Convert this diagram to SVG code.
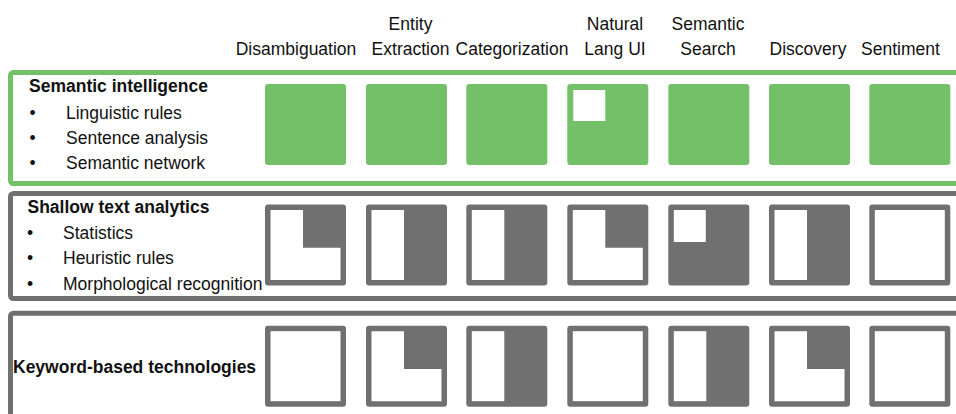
<svg xmlns="http://www.w3.org/2000/svg" xmlns:xlink="http://www.w3.org/1999/xlink" width="956" height="414" viewBox="0 0 956 414">
  <style>
    text { font-family: "Liberation Sans", Arial, sans-serif; font-size: 17.5px; fill: #111; }
    .hd { text-anchor: middle; }
    .b { font-weight: bold; }
    .frame-g { fill: none; stroke: #74C069; stroke-width: 5; }
    .frame-d { fill: none; stroke: #707070; stroke-width: 5; }
    .g { fill: #74C069; }
    .d { fill: #707070; }
    .w { fill: #fff; }
  </style>
  <defs>
    <!-- cell patterns, 81x81 each -->
    <g id="cell-green"><rect class="g" width="81" height="81" rx="3"/></g>
    <g id="cell-green-tl"><rect class="g" width="81" height="81" rx="3"/><rect class="w" x="6" y="6" width="32" height="31"/></g>
    <g id="cell-empty"><rect class="d" width="81" height="81" rx="3"/><rect class="w" x="5.5" y="5.5" width="70" height="70"/></g>
    <g id="cell-tr"><rect class="d" width="81" height="81" rx="3"/><path class="w" d="M5.5 5.5H38V43.3H75.5V75.5H5.5Z"/></g>
    <g id="cell-rh"><rect class="d" width="81" height="81" rx="3"/><rect class="w" x="5.5" y="5.5" width="32.5" height="70"/></g>
    <g id="cell-tl"><rect class="d" width="81" height="81" rx="3"/><rect class="w" x="5.5" y="5.5" width="32" height="32"/></g>
  </defs>

  <!-- column headings -->
  <g id="headings">
    <text class="hd" x="296" y="55">Disambiguation</text>
    <text class="hd" x="410.5" y="30">Entity</text>
    <text class="hd" x="410.5" y="55">Extraction</text>
    <text class="hd" x="512" y="55">Categorization</text>
    <text class="hd" x="615" y="30">Natural</text>
    <text class="hd" x="615" y="55">Lang UI</text>
    <text class="hd" x="708" y="30">Semantic</text>
    <text class="hd" x="708" y="55">Search</text>
    <text class="hd" x="808" y="55">Discovery</text>
    <text class="hd" x="900.5" y="55">Sentiment</text>
  </g>

  <!-- row 1: semantic intelligence -->
  <g id="row-semantic">
    <rect class="frame-g" x="10.5" y="72.5" width="960" height="111" rx="3"/>
    <text class="b" x="29" y="92">Semantic intelligence</text>
    <text x="29.5" y="119">•</text><text x="66" y="119">Linguistic rules</text>
    <text x="29.5" y="144">•</text><text x="66" y="144">Sentence analysis</text>
    <text x="29.5" y="169">•</text><text x="66" y="169">Semantic network</text>
  </g>
  <g id="s-disambiguation"><use xlink:href="#cell-green" x="265" y="84"/></g>
  <g id="s-entity"><use xlink:href="#cell-green" x="366" y="84"/></g>
  <g id="s-categorization"><use xlink:href="#cell-green" x="466.3" y="84"/></g>
  <g id="s-naturallang"><use xlink:href="#cell-green-tl" x="567.3" y="84"/></g>
  <g id="s-search"><use xlink:href="#cell-green" x="668.3" y="84"/></g>
  <g id="s-discovery"><use xlink:href="#cell-green" x="769" y="84"/></g>
  <g id="s-sentiment"><use xlink:href="#cell-green" x="869.3" y="84"/></g>

  <!-- row 2: shallow text analytics -->
  <g id="row-shallow">
    <rect class="frame-d" x="10.5" y="193.5" width="960" height="105" rx="3"/>
    <text class="b" x="27.5" y="213">Shallow text analytics</text>
    <text x="27" y="239">•</text><text x="63" y="239">Statistics</text>
    <text x="27" y="264">•</text><text x="63" y="264">Heuristic rules</text>
    <text x="27" y="290">•</text><text x="63" y="290">Morphological recognition</text>
  </g>
  <g id="h-disambiguation"><use xlink:href="#cell-tr" x="265" y="204.5"/></g>
  <g id="h-entity"><use xlink:href="#cell-rh" x="366" y="204.5"/></g>
  <g id="h-categorization"><use xlink:href="#cell-rh" x="466.3" y="204.5"/></g>
  <g id="h-naturallang"><use xlink:href="#cell-tr" x="567.3" y="204.5"/></g>
  <g id="h-search"><use xlink:href="#cell-tl" x="668.3" y="204.5"/></g>
  <g id="h-discovery"><use xlink:href="#cell-rh" x="769" y="204.5"/></g>
  <g id="h-sentiment"><use xlink:href="#cell-empty" x="869.3" y="204.5"/></g>

  <!-- row 3: keyword-based technologies -->
  <g id="row-keyword">
    <rect class="frame-d" x="10.5" y="313.2" width="960" height="140" rx="3"/>
    <text class="b" x="13" y="373">Keyword-based technologies</text>
  </g>
  <g id="k-disambiguation"><use xlink:href="#cell-empty" x="265" y="325.7"/></g>
  <g id="k-entity"><use xlink:href="#cell-tr" x="366" y="325.7"/></g>
  <g id="k-categorization"><use xlink:href="#cell-rh" x="466.3" y="325.7"/></g>
  <g id="k-naturallang"><use xlink:href="#cell-empty" x="567.3" y="325.7"/></g>
  <g id="k-search"><use xlink:href="#cell-rh" x="668.3" y="325.7"/></g>
  <g id="k-discovery"><use xlink:href="#cell-tr" x="769" y="325.7"/></g>
  <g id="k-sentiment"><use xlink:href="#cell-empty" x="869.3" y="325.7"/></g>
</svg>
